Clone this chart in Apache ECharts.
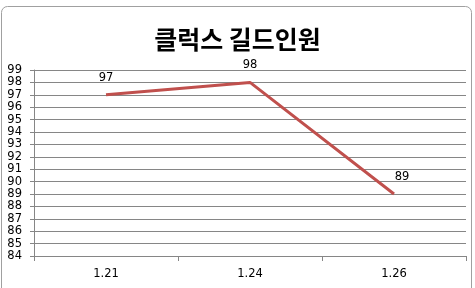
<!DOCTYPE html>
<html><head><meta charset="utf-8">
<script src="https://cdn.jsdelivr.net/npm/echarts@6/dist/echarts.min.js"></script>
<style>html,body{margin:0;padding:0;background:#fff}#c{width:475px;height:288px}</style>
</head><body><div id="c"></div>
<script>
const categories = ['1.21', '1.24', '1.26'];
const members = [97, 98, 89];
const title = '클럭스 길드인원';

const chart = echarts.init(document.getElementById('c'), null, {renderer: 'canvas'});
chart.setOption({
  backgroundColor: '#fff',
  animation: false,
  graphic: [{
    type: 'rect', shape: {x: 1.5, y: 6.5, width: 470, height: 300, r: 6},
    style: {fill: 'none', stroke: '#a0a0a0', lineWidth: 1}, z: -1
  }],
  title: {
    text: title, left: 'center', top: 22,
    textStyle: {fontFamily: 'Noto Sans CJK KR', fontWeight: 'bold', fontSize: 25, color: '#000'}
  },
  grid: {left: 34, right: 9, top: 70, bottom: 32, containLabel: false},
  xAxis: {
    type: 'category', data: categories, boundaryGap: true,
    axisLine: {lineStyle: {color: '#868686'}},
    axisTick: {show: true, length: 5, lineStyle: {color: '#868686'}},
    axisLabel: {color: '#000', fontFamily: 'DejaVu Sans', fontSize: 11.5, margin: 12}
  },
  yAxis: {
    type: 'value', min: 84, max: 99, interval: 1,
    axisLine: {show: true, lineStyle: {color: '#868686'}},
    axisTick: {show: true, length: 4, lineStyle: {color: '#868686'}},
    splitLine: {lineStyle: {color: '#868686'}},
    axisLabel: {color: '#000', fontFamily: 'DejaVu Sans', fontSize: 11.5, margin: 12}
  },
  series: [{
    type: 'line',
    data: members.map((v, i) => ({value: v, label: {offset: i === members.length - 1 ? [8, 0] : [0, 0]}})),
    showSymbol: true, symbol: 'circle', symbolSize: 2,
    itemStyle: {color: 'rgba(0,0,0,0)', borderWidth: 0},
    lineStyle: {color: '#C0504D', width: 3},
    label: {show: true, position: 'top', distance: 10, color: '#000', opacity: 1, fontFamily: 'DejaVu Sans', fontSize: 11.5},
    emphasis: {disabled: true}
  }]
});
</script></body></html>
